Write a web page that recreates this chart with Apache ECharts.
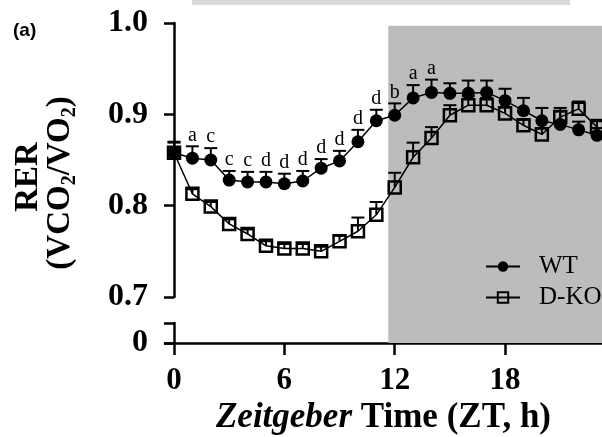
<!DOCTYPE html>
<html><head><meta charset="utf-8">
<script src="https://cdn.jsdelivr.net/npm/echarts@6/dist/echarts.min.js"></script>
<style>html,body{margin:0;padding:0;background:#fff}#c{width:602px;height:437px}</style>
</head><body><div id="c"></div>
<script>
const zt = [0,1,2,3,4,5,6,7,8,9,10,11,12,13,14,15,16,17,18,19,20,21,22,23];
const wt = [0.858,0.852,0.850,0.828,0.826,0.826,0.824,0.827,0.841,0.849,0.870,0.893,0.899,0.918,0.924,0.923,0.923,0.924,0.915,0.904,0.893,0.889,0.883,0.877];
const wtErr = [0.011,0.013,0.013,0.010,0.011,0.011,0.011,0.011,0.010,0.011,0.013,0.012,0.013,0.014,0.014,0.011,0.014,0.013,0.013,0.014,0.014,0.014,0.009,0.008];
const dko = [0.858,0.813,0.799,0.780,0.769,0.756,0.753,0.753,0.750,0.761,0.772,0.790,0.820,0.853,0.874,0.899,0.910,0.910,0.901,0.888,0.878,0.897,0.906,0.886];
const dkoErr = [0.012,0.005,0.005,0.005,0.005,0.005,0.005,0.005,0.005,0.006,0.015,0.014,0.016,0.016,0.012,0.011,0.010,0.008,0.007,0.006,0.007,0.010,0.008,0.008];
const wtLetters = ['','a','c','c','c','d','d','d','d','d','d','d','b','a','a','','','','','','','','',''];
const xTicks = [0,6,12,18];
const xMin = -0.49, xMax = 23.27;
const darkStart = 11.65;
const darkTop = 0.997;

const serif = '"Liberation Serif", "Times New Roman", serif';

function makeErr(letters){
  return function(params, api){
    const x = api.value(0), y = api.value(1), e = api.value(2);
    const p = api.coord([x, y]), q = api.coord([x, y + e]);
    const ch = [
      {type:'line', shape:{x1:p[0], y1:p[1], x2:q[0], y2:q[1]}, style:{stroke:'#000', lineWidth:2}},
      {type:'line', shape:{x1:q[0]-6.5, y1:q[1], x2:q[0]+6.5, y2:q[1]}, style:{stroke:'#000', lineWidth:2}}
    ];
    const L = letters && letters[params.dataIndex];
    if (L) ch.push({type:'text', x:q[0], y:q[1]-1, style:{text:L, fill:'#000', fontSize:20, fontFamily:serif, align:'center', verticalAlign:'bottom'}});
    return {type:'group', children:ch};
  };
}

const axisLine = {show:true, lineStyle:{color:'#000', width:2.5}};
const axisTick = {show:true, length:10, lineStyle:{color:'#000', width:2.5}};
const hiddenX = (i) => ({type:'value', gridIndex:i, min:xMin, max:xMax, show:false});

const chart = echarts.init(document.getElementById('c'));
chart.setOption({
  animation:false,
  backgroundColor:'#fff',
  grid:[
    {left:165, right:0, top:23, height:274},
    {left:165, right:0, top:297, height:26},
    {left:165, right:0, top:323, height:20}
  ],
  xAxis:[
    hiddenX(0), hiddenX(1),
    {type:'value', gridIndex:2, min:xMin, max:xMax,
     axisLine:axisLine,
     axisTick:{show:true, length:12, lineStyle:{color:'#000', width:2.5}, customValues:xTicks},
     axisLabel:{customValues:xTicks, margin:22, color:'#000', fontSize:31, fontWeight:'bold', fontFamily:serif},
     splitLine:{show:false},
     name:'{i|Zeitgeber}{b| Time (ZT, h)}', nameLocation:'middle', nameGap:57,
     nameTextStyle:{rich:{
       i:{fontSize:35, fontStyle:'italic', fontWeight:'bold', fontFamily:serif, color:'#000'},
       b:{fontSize:35, fontWeight:'bold', fontFamily:serif, color:'#000'}
     }}
    }
  ],
  yAxis:[
    {type:'value', gridIndex:0, min:0.7, max:1.0, interval:0.1,
     axisLine:axisLine, axisTick:axisTick, splitLine:{show:false},
     axisLabel:{margin:17, color:'#000', fontSize:32, fontWeight:'bold', fontFamily:serif, formatter:v=>v.toFixed(1)}},
    {type:'value', gridIndex:1, min:0, max:1, show:false},
    {type:'value', gridIndex:2, min:0, max:1, interval:1,
     axisLine:axisLine, axisTick:axisTick, splitLine:{show:false},
     axisLabel:{margin:17, color:'#000', fontSize:32, fontWeight:'bold', fontFamily:serif, formatter:v=>v===0?'0':''}}
  ],
  legend:{
    data:['WT','D-KO'], orient:'vertical', left:485, top:254, padding:0,
    itemWidth:34, itemHeight:13, itemGap:6,
    textStyle:{fontFamily:serif, fontSize:25, color:'#000', padding:[0,0,0,14]}
  },
  graphic:[
    {type:'rect', shape:{x:192, y:0, width:378, height:5}, style:{fill:'#d9d9d9'}},
    {type:'text', x:13, y:21, style:{text:'(a)', font:'bold 19px "Liberation Sans", Arial, sans-serif', fill:'#000'}},
    {type:'text', x:28, y:177, rotation:Math.PI/2, style:{text:'RER', fontSize:33, fontWeight:'bold', fontFamily:serif, fill:'#000', align:'center', verticalAlign:'middle'}},
    {type:'text', x:60, y:183, rotation:Math.PI/2, style:{
      text:'{m|(VCO}{s|2}{m|/VO}{s|2}{m|)}', align:'center', verticalAlign:'middle',
      rich:{
        m:{fontSize:33, fontWeight:'bold', fontFamily:serif, fill:'#000', lineHeight:40, verticalAlign:'middle'},
        s:{fontSize:20, fontWeight:'bold', fontFamily:serif, fill:'#000', lineHeight:20, verticalAlign:'bottom'}
      }}}
  ],
  series:[
    {type:'line', xAxisIndex:0, yAxisIndex:0, data:[], z:0, silent:true,
     markArea:{silent:true, itemStyle:{color:'#bcbcbc'}, data:[[{xAxis:darkStart, yAxis:0.7},{xAxis:xMax, yAxis:darkTop}]]}},
    {type:'line', xAxisIndex:1, yAxisIndex:1, data:[], z:0, silent:true,
     markArea:{silent:true, itemStyle:{color:'#bcbcbc'}, data:[[{xAxis:darkStart, yAxis:0},{xAxis:xMax, yAxis:1}]]}},
    {type:'line', xAxisIndex:2, yAxisIndex:2, data:[], z:0, silent:true,
     markArea:{silent:true, itemStyle:{color:'#bcbcbc'}, data:[[{xAxis:darkStart, yAxis:0},{xAxis:xMax, yAxis:1}]]}},
    {type:'custom', name:'errWT', xAxisIndex:0, yAxisIndex:0, z:2, silent:true,
     renderItem:makeErr(wtLetters), data:zt.map((t,i)=>[t, wt[i], wtErr[i]])},
    {type:'custom', name:'errDKO', xAxisIndex:0, yAxisIndex:0, z:2, silent:true,
     renderItem:makeErr(null), data:zt.map((t,i)=>[t, dko[i], dkoErr[i]])},
    {type:'line', name:'D-KO', xAxisIndex:0, yAxisIndex:0, z:3,
     data:zt.map((t,i)=>[t, dko[i]]),
     symbol:'rect', symbolSize:12, showAllSymbol:true,
     itemStyle:{color:'rgba(0,0,0,0)', borderColor:'#000', borderWidth:2.5},
     lineStyle:{color:'#000', width:1.5}},
    {type:'line', name:'WT', xAxisIndex:0, yAxisIndex:0, z:4,
     data:zt.map((t,i)=>[t, wt[i]]),
     symbol:'circle', symbolSize:13, showAllSymbol:true,
     itemStyle:{color:'#000'},
     lineStyle:{color:'#000', width:1.5}}
  ]
});
</script>
</body></html>
